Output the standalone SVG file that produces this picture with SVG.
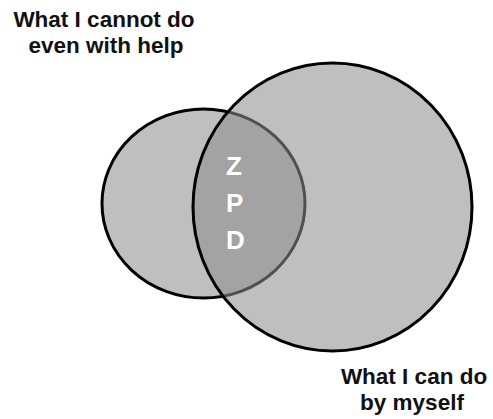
<svg xmlns="http://www.w3.org/2000/svg" width="493" height="419" viewBox="0 0 493 419">
<style>
.lbl{font-family:"Liberation Sans",Arial,sans-serif;font-weight:bold;font-size:22.5px;fill:#111;text-anchor:middle}
.zpd{font-family:"Liberation Sans",Arial,sans-serif;font-weight:bold;font-size:26px;fill:#fff}
</style>
<rect width="493" height="419" fill="#fff"/>
<g id="cannot-help">
<ellipse cx="203.5" cy="203.5" rx="101.5" ry="94.5" fill="#bfbfbf" stroke="#000" stroke-width="3"/>
</g>
<g id="by-myself">
<ellipse cx="332.5" cy="207" rx="139.5" ry="144" fill="#8d8d8d" fill-opacity="0.565" stroke="#000" stroke-width="3"/>
</g>
<g id="connectors"></g>
<g id="zpd">
<text class="zpd" x="226" y="175">Z</text>
<text class="zpd" x="226" y="212">P</text>
<text class="zpd" x="226" y="249">D</text>
</g>
<g id="labels">
<text class="lbl" x="104" y="27">What I cannot do</text>
<text class="lbl" x="106" y="53">even with help</text>
<text class="lbl" x="414" y="384">What I can do</text>
<text class="lbl" x="412" y="410">by myself</text>
</g>
</svg>
